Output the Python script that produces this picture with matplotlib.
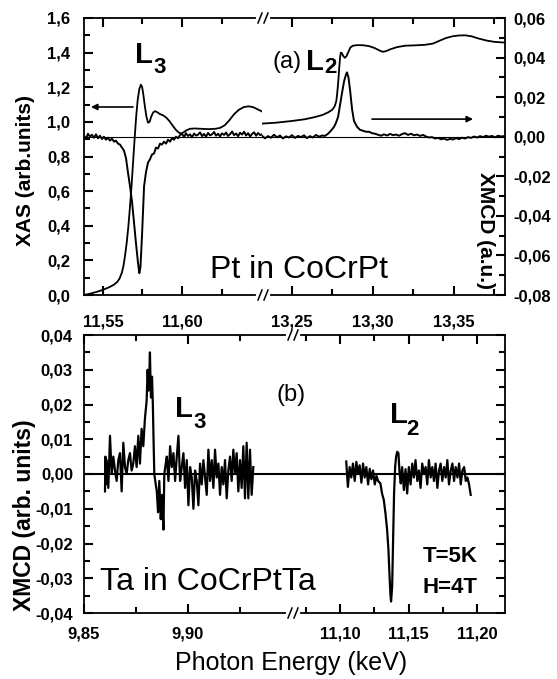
import matplotlib
matplotlib.use('Agg')
import matplotlib.pyplot as plt
from matplotlib.ticker import MultipleLocator, FuncFormatter, FixedLocator
from matplotlib.lines import Line2D

plt.rcParams['font.family'] = ['Liberation Sans', 'DejaVu Sans']

# ---------------- DATA ----------------
pt_l3_xas_e = [11.538, 11.542, 11.546, 11.550, 11.554, 11.557, 11.559, 11.5605, 11.562, 11.563,
               11.564, 11.565, 11.566, 11.567, 11.568, 11.569, 11.570, 11.571, 11.572, 11.573,
               11.574, 11.5748, 11.5755, 11.5765, 11.5775, 11.5785, 11.5795, 11.5805, 11.5818,
               11.583, 11.5845, 11.586, 11.588, 11.590, 11.592, 11.594, 11.596, 11.598, 11.5995,
               11.601, 11.603, 11.605, 11.608, 11.612, 11.617, 11.621, 11.624, 11.627, 11.630,
               11.633, 11.636, 11.639, 11.642, 11.645, 11.648, 11.6506]
pt_l3_xas = [0.0, 0.008, 0.018, 0.03, 0.045, 0.06, 0.075, 0.095, 0.13, 0.17,
             0.23, 0.30, 0.39, 0.50, 0.62, 0.76, 0.90, 1.03, 1.13, 1.19,
             1.215, 1.20, 1.16, 1.09, 1.03, 0.995, 1.00, 1.03, 1.055,
             1.062, 1.055, 1.045, 1.038, 1.025, 1.005, 0.98, 0.955, 0.938, 0.933,
             0.94, 0.952, 0.96, 0.962, 0.96, 0.958, 0.96, 0.965, 0.98, 1.01,
             1.045, 1.07, 1.085, 1.09, 1.085, 1.072, 1.06]

pt_l3_xmcd_e = [11.5380, 11.5393, 11.5405, 11.5418, 11.5430, 11.5443, 11.5456, 11.5468, 11.5481,
                11.5494, 11.5506, 11.5519, 11.5532, 11.5544, 11.5557, 11.5570, 11.5582, 11.5595,
                11.5608, 11.5620, 11.5633, 11.5646, 11.5658, 11.5671, 11.5684, 11.5696, 11.5709,
                11.5722, 11.5730, 11.5737, 11.5747, 11.5760, 11.5772, 11.5785, 11.5797, 11.5810,
                11.5823, 11.5835, 11.5848, 11.5861, 11.5873, 11.5886, 11.5899, 11.5911, 11.5924,
                11.5937, 11.5949, 11.5962, 11.5975, 11.5987,
                11.6000, 11.6013, 11.6025, 11.6038, 11.6051, 11.6063, 11.6076, 11.6089, 11.6101,
                11.6114, 11.6127, 11.6139, 11.6152, 11.6165, 11.6177, 11.6190, 11.6203, 11.6215,
                11.6228, 11.6241, 11.6253, 11.6266, 11.6279, 11.6291, 11.6304, 11.6317, 11.6329,
                11.6342, 11.6355, 11.6367, 11.6380, 11.6393, 11.6405, 11.6418, 11.6431, 11.6443,
                11.6456, 11.6469, 11.6481, 11.6494, 11.6506]
pt_l3_xmcd = [0.0005, -0.001, 0.0015, 0.000, 0.001, -0.0005, 0.0012, -0.0008, 0.0005,
              -0.0012, 0.000, -0.0015, -0.0005, -0.002, -0.001, -0.0025, -0.002, -0.0035,
              -0.004, -0.0055, -0.007, -0.011, -0.018, -0.025, -0.033, -0.043, -0.054,
              -0.064, -0.069, -0.066, -0.050, -0.025, -0.018, -0.013, -0.0115, -0.009,
              -0.0085, -0.0055, -0.006, -0.0035, -0.004, -0.0025, -0.0035, -0.0015, -0.0025,
              -0.0008, -0.0015, 0.0, -0.0008, 0.0008,
              0.0015, -0.0002, 0.0018, 0.0004, 0.0012, -0.0003, 0.0016, 0.0006, 0.0010,
              0.0022, 0.0003, 0.0014, 0.0001, 0.0019, 0.0007, 0.0012, 0.0024, 0.0005,
              0.0015, 0.0002, 0.0017, 0.0009, 0.0021, 0.0004, 0.0013, 0.0026, 0.0008,
              0.0016, 0.0003, 0.0020, 0.0011, 0.0025, 0.0006, 0.0018, 0.0001, 0.0014,
              0.0022, 0.0005, 0.0019, 0.0008, 0.0012]

pt_l2_xas_e = [13.2317, 13.240, 13.250, 13.258, 13.264, 13.269, 13.2725, 13.275, 13.2765,
               13.2775, 13.278, 13.2787, 13.2793, 13.2798, 13.2803, 13.2810, 13.2818, 13.2828,
               13.2838, 13.285, 13.2862, 13.2878, 13.290, 13.2935, 13.2975, 13.301, 13.304,
               13.306, 13.308, 13.311, 13.315, 13.320, 13.326, 13.332, 13.337, 13.341, 13.345,
               13.349, 13.353, 13.357, 13.361, 13.365, 13.370, 13.375, 13.3815]
pt_l2_xas = [0.99, 0.995, 1.005, 1.015, 1.027, 1.04, 1.055, 1.07, 1.09,
             1.12, 1.16, 1.23, 1.31, 1.37, 1.40, 1.397, 1.38, 1.37,
             1.38, 1.405, 1.43, 1.44, 1.443, 1.443, 1.438, 1.427, 1.413,
             1.405, 1.408, 1.42, 1.432, 1.44, 1.442, 1.445, 1.452, 1.468, 1.484,
             1.494, 1.499, 1.50, 1.494, 1.482, 1.47, 1.462, 1.458]

pt_l2_xmcd_e = [13.2317, 13.2335, 13.2354, 13.2372, 13.2391, 13.2409, 13.2428, 13.2446, 13.2465,
                13.2483, 13.2502, 13.2520, 13.2539, 13.2557, 13.2576, 13.2594, 13.2613, 13.2631,
                13.2650, 13.2668, 13.2687, 13.2705,
                13.2724, 13.2742, 13.2761, 13.2773, 13.2786, 13.2798, 13.2810, 13.2823, 13.2835,
                13.2841, 13.2850, 13.2860, 13.2872, 13.2884, 13.2903, 13.2921, 13.2940, 13.2958,
                13.2977, 13.2995, 13.3014, 13.3032, 13.3051,
                13.3069, 13.3088, 13.3106, 13.3125, 13.3143, 13.3162, 13.3180, 13.3199, 13.3217,
                13.3236, 13.3254, 13.3273, 13.3291, 13.3310, 13.3328, 13.3347, 13.3365, 13.3384,
                13.3402, 13.3421, 13.3439, 13.3458, 13.3476, 13.3495, 13.3513, 13.3532, 13.3550,
                13.3569, 13.3587, 13.3606, 13.3624, 13.3643, 13.3661, 13.3680, 13.3698, 13.3717,
                13.3735, 13.3754, 13.3772, 13.3791, 13.3809]
pt_l2_xmcd = [0.0005, -0.0008, 0.0003, -0.0005, 0.001, -0.0003, 0.0006, -0.0009, 0.0002,
              -0.0004, 0.0008, -0.0006, 0.0004, -0.0002, 0.0007, -0.0007, 0.0003, -0.0004,
              0.0009, 0.0, 0.0006, 0.0004,
              0.0015, 0.003, 0.005, 0.007, 0.010, 0.016, 0.022, 0.028, 0.0315,
              0.0325, 0.030, 0.0235, 0.014, 0.008, 0.005, 0.0035, 0.003, 0.0025,
              0.0025, 0.0018, 0.0015, 0.001, 0.0005,
              0.0012, 0.0006, 0.0014, 0.0008, 0.0011, 0.0005, 0.0013, 0.0018, 0.0009,
              0.0015, 0.0007, 0.0011, 0.0004, 0.0009, 0.0001, -0.0004, -0.0002, -0.0009,
              -0.0006, -0.0013, -0.0009, -0.0016, -0.0011, -0.0014, -0.0007, -0.0012, -0.0005,
              -0.0009, -0.0002, -0.0006, 0.0001, -0.0004, 0.0003, -0.0002, 0.0005, 0.0,
              0.0004, -0.0003, 0.0005, 0.0001, 0.0003]

ta_l3_e = [9.8601, 9.8603, 9.8605, 9.8609, 9.8617, 9.8625, 9.8633, 9.8641, 9.8649, 9.8657,
           9.8665, 9.8673, 9.8681, 9.8689, 9.8697, 9.8705, 9.8713, 9.8721, 9.8729, 9.8737,
           9.8745, 9.8753, 9.8761, 9.8769, 9.8777, 9.8785, 9.8793, 9.8801, 9.8806, 9.8810,
           9.8813, 9.8817, 9.8819, 9.8822, 9.8825, 9.8827, 9.8831, 9.8834, 9.8838, 9.8845,
           9.8850, 9.8856, 9.8862, 9.8869, 9.8875, 9.8882, 9.8886, 9.8893, 9.8898,
           9.8906, 9.8914, 9.8922, 9.8930, 9.8938, 9.8946, 9.8954, 9.8962, 9.8970, 9.8978,
           9.8986, 9.8994, 9.9002, 9.9010, 9.9018, 9.9026, 9.9034, 9.9042, 9.9050, 9.9058,
           9.9066, 9.9074, 9.9082, 9.9090, 9.9098, 9.9106, 9.9114, 9.9122, 9.9130, 9.9138,
           9.9146, 9.9154, 9.9162, 9.9170, 9.9178, 9.9186, 9.9194, 9.9202, 9.9210, 9.9218,
           9.9226, 9.9234, 9.9242, 9.9250, 9.9258, 9.9266, 9.9274, 9.9282, 9.9290, 9.9298,
           9.9306, 9.9314]
ta_l3_xmcd = [-0.005, 0.005, -0.003, 0.004, -0.004, 0.011, 0.000, 0.005, 0.001, -0.002,
              0.004, 0.006, -0.005, 0.009, 0.002, 0.000, 0.004, 0.006, 0.001, 0.003,
              0.008, 0.002, 0.011, 0.003, 0.013, 0.008, 0.016, 0.021, 0.030, 0.024,
              0.026, 0.035, 0.029, 0.022, 0.027, 0.028, 0.020, 0.011, 0.000, -0.003,
              -0.005, -0.011, -0.002, -0.013, -0.006, -0.016, 0.000, 0.003, 0.005,
              -0.002, 0.008, 0.002, 0.006, -0.002, 0.005, 0.011, -0.002, 0.002, 0.006,
              -0.004, 0.004, -0.009, 0.002, -0.001, -0.010, 0.001, -0.002, -0.009, 0.003,
              -0.003, 0.004, -0.001, -0.006, 0.007, -0.002, 0.004, -0.004, 0.007, -0.001,
              0.003, -0.006, 0.002, -0.003, 0.004, -0.007, 0.001, 0.005, -0.002, 0.007,
              0.000, 0.006, -0.005, 0.004, -0.004, 0.008, -0.007, 0.009, -0.007, 0.007,
              -0.006, 0.002]

ta_l2_e = [11.1044, 11.1056, 11.1069, 11.1081, 11.1093, 11.1106, 11.1118, 11.1130, 11.1142,
           11.1155, 11.1167, 11.1179, 11.1191, 11.1204, 11.1216, 11.1228, 11.1240, 11.1253,
           11.1265, 11.1277,
           11.1294, 11.1306, 11.1319, 11.1331, 11.1343, 11.1353, 11.1360, 11.1368, 11.1372,
           11.1380, 11.1387, 11.1394, 11.1402, 11.1409, 11.1417, 11.1426, 11.1434, 11.1443,
           11.1453, 11.1466, 11.1478, 11.1490,
           11.1502, 11.1515, 11.1527, 11.1539, 11.1551, 11.1564, 11.1576, 11.1588, 11.1600,
           11.1613, 11.1625, 11.1637, 11.1649, 11.1662, 11.1674, 11.1686, 11.1698, 11.1711,
           11.1723, 11.1735, 11.1747, 11.1760, 11.1772, 11.1784, 11.1796, 11.1809, 11.1821,
           11.1833, 11.1845, 11.1858, 11.1870, 11.1882, 11.1894, 11.1907, 11.1919, 11.1931,
           11.1943, 11.1955]
ta_l2_xmcd = [0.0036, -0.0037, 0.002, -0.001, 0.003, -0.002, 0.0035, 0.0, 0.0025,
              -0.0025, 0.003, -0.001, 0.002, -0.003, 0.0015, -0.0015, 0.001, -0.003,
              -0.0005, -0.002,
              -0.0027, -0.0056, -0.0075, -0.0113, -0.016, -0.0218, -0.0286, -0.035, -0.0367,
              -0.0325, -0.019, -0.0056, 0.002, 0.005, 0.0064, 0.006, 0.0005, -0.0027,
              0.002, -0.0046, 0.0014, -0.0056,
              0.002, -0.003, 0.003, -0.001, 0.004, -0.002, 0.001, -0.004, 0.003,
              0.0, 0.002, -0.003, 0.004, -0.001, 0.002, -0.002, 0.003, -0.004,
              0.001, 0.003, -0.002, 0.002, -0.001, 0.004, -0.003, 0.001, 0.003,
              -0.002, 0.002, -0.001, 0.003, -0.003, 0.001, 0.002, -0.002, -0.001,
              -0.003, -0.006]

top_left_xlim = (11.538, 11.6506)
top_right_xlim = (13.2317, 13.3815)
bot_left_xlim = (9.85, 9.95)
bot_right_xlim = (11.0647, 11.2206)
xas_ylim = (0.0, 1.6)
pt_xmcd_ylim = (-0.08, 0.06)
ta_xmcd_ylim = (-0.04, 0.04)

# ---------------- FIGURE ----------------
W, H = 557, 679
fig = plt.figure(figsize=(W / 100, H / 100), dpi=100)


def add_ax(x0, x1, y0, y1, **kw):
    return fig.add_axes([x0 / W, 1 - y1 / H, (x1 - x0) / W, (y1 - y0) / H], **kw)


def fx(px):
    return px / W


def fy(py):
    return 1 - py / H


LW_SP = 1.3
TICKFS = 12
MAJ, MIN, TW = 6.5, 4, 1.5
fmt1 = FuncFormatter(lambda v, p: f"{v:.1f}".replace('.', ','))
fmt2 = FuncFormatter(lambda v, p: (f"{v:.2f}".replace('.', ',')).replace('-0,00', '0,00'))


def draw_ticks(ax, yside):
    """Inward tick marks drawn as tick markers at the locator positions."""
    x0, x1 = ax.get_xlim()
    y0, y1 = ax.get_ylim()
    ex = 1e-6 * abs(x1 - x0)
    ey = 1e-6 * abs(y1 - y0)
    kw = dict(ls='none', color='black', mew=TW, clip_on=False, zorder=6)
    for locs, size in ((ax.xaxis.get_majorticklocs(), MAJ), (ax.xaxis.get_minorticklocs(), MIN)):
        locs = [v for v in locs if x0 - ex <= v <= x1 + ex]
        tr = ax.get_xaxis_transform()
        ax.plot(locs, [0] * len(locs), transform=tr, marker=2, ms=size, **kw)
        ax.plot(locs, [1] * len(locs), transform=tr, marker=3, ms=size, **kw)
    for locs, size in ((ax.yaxis.get_majorticklocs(), MAJ), (ax.yaxis.get_minorticklocs(), MIN)):
        locs = [v for v in locs if y0 - ey <= v <= y1 + ey]
        tr = ax.get_yaxis_transform()
        if yside == 'left':
            ax.plot([0] * len(locs), locs, transform=tr, marker=1, ms=size, **kw)
        else:
            ax.plot([1] * len(locs), locs, transform=tr, marker=0, ms=size, **kw)


def setup(ax, xlim, ylim, xmaj, xmin, ymaj, ymin, yfmt, yside,
          labelleft=True, labelright=False, xpad=10, ypad=8):
    ax.set_xlim(*xlim)
    ax.set_ylim(*ylim)
    ax.xaxis.set_major_locator(FixedLocator(xmaj))
    ax.xaxis.set_minor_locator(FixedLocator(xmin))
    ax.xaxis.set_major_formatter(fmt2)
    ax.yaxis.set_major_locator(MultipleLocator(ymaj))
    ax.yaxis.set_minor_locator(MultipleLocator(ymin))
    if yfmt is not None:
        ax.yaxis.set_major_formatter(yfmt)
    for s in ax.spines.values():
        s.set_linewidth(LW_SP)
    ax.spines['left'].set_visible(yside == 'left')
    ax.spines['right'].set_visible(yside == 'right')
    ax.tick_params(axis='both', which='both', direction='in', length=0, labelsize=TICKFS)
    ax.tick_params(axis='x', which='major', pad=xpad, labelbottom=True, labeltop=False)
    ax.tick_params(axis='y', which='major', pad=ypad, labelleft=labelleft,
                   labelright=labelright)
    for lab in ax.get_xticklabels() + ax.get_yticklabels():
        lab.set_fontweight('bold')
    draw_ticks(ax, yside)


# --- top left: XAS (left axis) ---
ax1 = add_ax(84, 262, 18, 295)
setup(ax1, top_left_xlim, xas_ylim, [11.55, 11.60], [11.575, 11.625], 0.2, 0.1, fmt1,
      'left', xpad=14, ypad=10)
ax1.plot(pt_l3_xas_e, pt_l3_xas, color='black', lw=1.3)

ax1b = add_ax(84, 262, 18, 295, facecolor='none')
ax1b.set_xlim(*top_left_xlim)
ax1b.set_ylim(*pt_xmcd_ylim)
ax1b.axis('off')
ax1b.axhline(0, color='black', lw=0.8)
ax1b.plot(pt_l3_xmcd_e, pt_l3_xmcd, color='black', lw=1.4)

# --- top right: XMCD (right axis) ---
ax2 = add_ax(262, 505, 18, 295)
setup(ax2, top_right_xlim, pt_xmcd_ylim, [13.25, 13.30, 13.35], [13.275, 13.325, 13.375],
      0.02, 0.01, fmt2, 'right', labelleft=False, labelright=True, xpad=14, ypad=6)
ax2.axhline(0, color='black', lw=0.8)
ax2.plot(pt_l2_xmcd_e, pt_l2_xmcd, color='black', lw=1.4)

ax2b = add_ax(262, 505, 18, 295, facecolor='none')
ax2b.set_xlim(*top_right_xlim)
ax2b.set_ylim(*xas_ylim)
ax2b.axis('off')
ax2b.plot(pt_l2_xas_e, pt_l2_xas, color='black', lw=1.3)

# --- bottom left ---
ax3 = add_ax(84, 292, 335, 613)
setup(ax3, bot_left_xlim, ta_xmcd_ylim, [9.85, 9.90], [9.875, 9.925], 0.01, 0.005, fmt2,
      'left', xpad=10, ypad=8)
ax3.axhline(0, color='black', lw=1.5)
ax3.plot(ta_l3_e, ta_l3_xmcd, color='black', lw=1.6)

# --- bottom right ---
ax4 = add_ax(292, 505, 335, 613)
setup(ax4, bot_right_xlim, ta_xmcd_ylim, [11.10, 11.15, 11.20], [11.075, 11.125, 11.175],
      0.01, 0.005, None, 'right', labelleft=False, labelright=False, xpad=10, ypad=8)
ax4.axhline(0, color='black', lw=1.5)
ax4.plot(ta_l2_e, ta_l2_xmcd, color='black', lw=1.6)


# --- axis break marks ---
def brk(xb, yb):
    fig.add_artist(Line2D([fx(xb - 5), fx(xb + 5)], [fy(yb), fy(yb)], color='white',
                          lw=3, transform=fig.transFigure, zorder=20))
    for dx in (-3, 3):
        fig.add_artist(Line2D([fx(xb + dx - 2), fx(xb + dx + 2)], [fy(yb + 5), fy(yb - 5)],
                              color='black', lw=1.1, transform=fig.transFigure, zorder=21))


brk(263, 18)
brk(263, 295)
brk(293, 335)
brk(293, 613)

# --- arrows ---
ax1.annotate('', xy=(11.5424, 1.086), xytext=(11.569, 1.086),
             arrowprops=dict(arrowstyle='-|>', color='black', lw=1.2,
                             mutation_scale=9, shrinkA=0, shrinkB=0))
ax2.annotate('', xy=(13.3618, 0.0089), xytext=(13.2995, 0.0089),
             arrowprops=dict(arrowstyle='-|>', color='black', lw=1.2,
                             mutation_scale=9, shrinkA=0, shrinkB=0))

# --- texts ---
fig.text(fx(26), fy(170), 'XAS (arb.units)', rotation=90, fontsize=15, fontweight='bold',
         ha='center', va='center')
fig.text(fx(486), fy(230), 'XMCD (a.u.)', rotation=270, fontsize=15, fontweight='bold',
         ha='center', va='center')
fig.text(fx(25), fy(515), 'XMCD (arb. units)', rotation=90, fontsize=16.5, fontweight='bold',
         ha='center', va='center')
fig.text(fx(291), fy(663), 'Photon Energy (keV)', fontsize=18, ha='center', va='center')
fig.text(fx(210), fy(270), 'Pt in CoCrPt', fontsize=23, ha='left', va='center')
fig.text(fx(100), fy(582), 'Ta in CoCrPtTa', fontsize=23, ha='left', va='center')
fig.text(fx(272), fy(62), '(a)', fontsize=17, ha='left', va='center')
fig.text(fx(277), fy(395), '(b)', fontsize=17, ha='left', va='center')


def edge_label(xl, yl_base, sub, xs, ys_base, big=21, small=16):
    fig.text(fx(xl), fy(yl_base), 'L', fontsize=big, fontweight='bold', ha='left', va='baseline')
    fig.text(fx(xs), fy(ys_base), sub, fontsize=small, fontweight='bold', ha='left',
             va='baseline')


edge_label(135, 63, '3', 153, 73)
edge_label(306, 70, '2', 324, 73)
edge_label(175, 417, '3', 193, 428)
edge_label(390, 423, '2', 406, 435)

fig.text(fx(423), fy(562), 'T=5K', fontsize=16, fontweight='bold', ha='left', va='baseline')
fig.text(fx(423), fy(593), 'H=4T', fontsize=16, fontweight='bold', ha='left', va='baseline')

fig.savefig('out.png', dpi=100)
